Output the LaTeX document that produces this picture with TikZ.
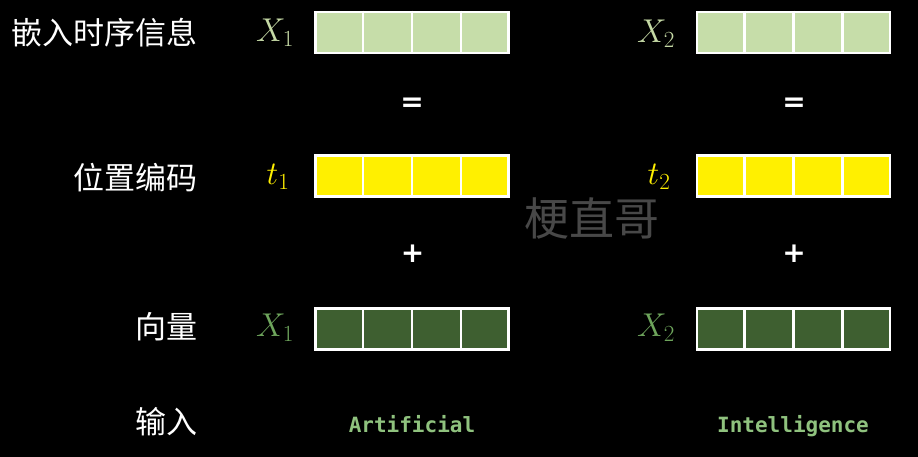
\RequirePackage{fix-cm}
\documentclass[tikz,border=0pt]{standalone}
\usepackage{amsmath}
\usepackage{fontspec}
\usepackage{xcolor}
\usetikzlibrary{calc}
\newfontfamily\cjk{Noto Sans CJK SC}
\newfontfamily\opfont{DejaVu Sans}
\setmonofont{DejaVu Sans Mono}
\definecolor{embgreen}{RGB}{198,221,169}
\definecolor{embtext}{RGB}{197,217,165}
\definecolor{posyellow}{RGB}{255,240,0}
\definecolor{vecgreen}{RGB}{62,95,48}
\definecolor{vectext}{RGB}{110,165,92}
\definecolor{wordgreen}{RGB}{143,194,126}
\definecolor{markgray}{RGB}{72,72,72}

\tikzset{
	bar/.style={draw=white, line width=2.5pt, minimum width=193pt, minimum height=41pt, inner sep=0pt},
	cnlabel/.style={anchor=east, text=white, inner sep=0pt, font=\cjk\fontsize{31}{31}\selectfont},
	mathlabel/.style={inner sep=0pt, font=\fontsize{33}{33}\selectfont},
	opsign/.style={text=white, inner sep=0pt, font=\opfont\bfseries\fontsize{28}{28}\selectfont},
	word/.style={text=wordgreen, inner sep=0pt, anchor=base, font=\ttfamily\bfseries\fontsize{21}{21}\selectfont}
}

\begin{document}
\begin{tikzpicture}[x=1pt, y=-1pt]
	\path[use as bounding box, fill=black] (0,0) rectangle (918,457);

	% watermark
	\node[text=markgray, font=\cjk\fontsize{45}{45}\selectfont] (mark) at (592,218) {梗直哥};

	% bars
	\node[bar, fill=embgreen] (emb1) at (412,32.5) {};
	\node[bar, fill=embgreen] (emb2) at (793.5,32.5) {};
	\node[bar, fill=posyellow] (pos1) at (412,176) {};
	\node[bar, fill=posyellow] (pos2) at (793.5,176) {};
	\node[bar, fill=vecgreen] (vec1) at (412,329) {};
	\node[bar, fill=vecgreen] (vec2) at (793.5,329) {};

	\foreach \b in {emb1,emb2,pos1,pos2,vec1,vec2}
		\foreach \f in {0.25,0.5,0.75}
			\draw[white, line width=2.5pt] ($(\b.north west)!\f!(\b.north east)$) -- ($(\b.south west)!\f!(\b.south east)$);

	% row labels
	\node[cnlabel] (embname) at (198,33) {嵌入时序信息};
	\node[cnlabel] (posname) at (198,178) {位置编码};
	\node[cnlabel] (vecname) at (198,327) {向量};
	\node[cnlabel] (inname) at (198,422) {输入};

	% symbols
	\node[mathlabel, text=embtext] (x1top) at (275,33) {$X_1$};
	\node[mathlabel, text=embtext] (x2top) at (656,34) {$X_2$};
	\node[mathlabel, text=posyellow] (t1) at (278,177) {$t_1$};
	\node[mathlabel, text=posyellow] (t2) at (659,177) {$t_2$};
	\node[mathlabel, text=vectext] (x1bot) at (275,328) {$X_1$};
	\node[mathlabel, text=vectext] (x2bot) at (656,328) {$X_2$};

	% operators
	\node[opsign] (eq1) at (412,104.5) {=};
	\node[opsign] (eq2) at (794,104.5) {=};
	\node[opsign] (plus1) at (412.5,253.5) {+};
	\node[opsign] (plus2) at (794,253.5) {+};

	% input words
	\node[word] (art) at (412,432) {Artificial};
	\node[word] (intel) at (793,432) {Intelligence};
\end{tikzpicture}
\end{document}
